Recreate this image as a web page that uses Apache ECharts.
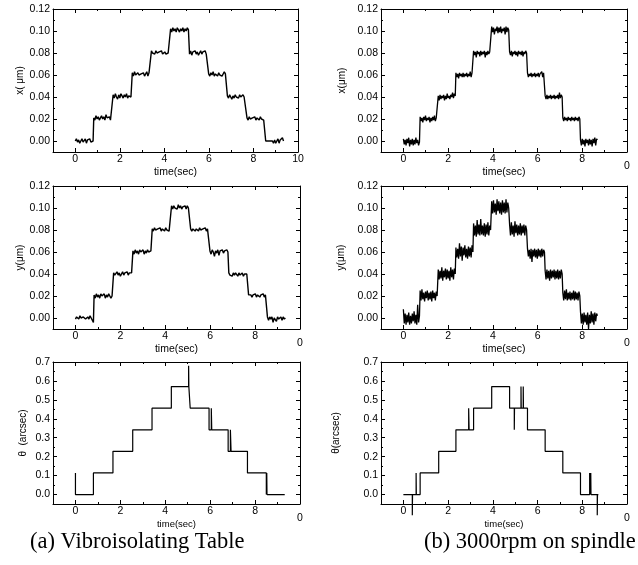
<!DOCTYPE html>
<html>
<head>
<meta charset="utf-8">
<script src="https://cdn.jsdelivr.net/npm/echarts@6/dist/echarts.min.js"></script>
<style>
  html, body { margin: 0; padding: 0; background: #fff; }
  #chart { width: 638px; height: 565px; }
</style>
</head>
<body>
<div id="chart"></div>
<script>
// time stamps, column (a): one row per plateau
const timeA = [
  0.00, 0.05, 0.10, 0.15, 0.20, 0.25, 0.30, 0.35, 0.40, 0.45, 0.50, 0.55, 0.60, 0.65, 0.70, 0.75, 0.80,
  0.83, 0.88, 0.93, 0.98, 1.03, 1.08, 1.13, 1.18, 1.23, 1.28, 1.33, 1.38, 1.43, 1.48, 1.53, 1.58, 1.63,
  1.70, 1.75, 1.80, 1.85, 1.90, 1.95, 2.00, 2.05, 2.10, 2.15, 2.20, 2.25, 2.30, 2.35, 2.40, 2.45, 2.50,
  2.56, 2.61, 2.66, 2.71, 2.76, 2.81, 2.86, 2.91, 2.96, 3.01, 3.06, 3.11, 3.16, 3.21, 3.26, 3.31, 3.36,
  3.42, 3.47, 3.52, 3.57, 3.62, 3.67, 3.72, 3.77, 3.82, 3.87, 3.92, 3.97, 4.02, 4.07, 4.12, 4.17, 4.22,
  4.28, 4.33, 4.38, 4.43, 4.48, 4.53, 4.58, 4.63, 4.68, 4.73, 4.78, 4.83, 4.88, 4.93, 4.98, 5.03, 5.08,
  5.13, 5.18, 5.23, 5.28, 5.33, 5.38, 5.43, 5.48, 5.53, 5.58, 5.63, 5.68, 5.73, 5.78, 5.83, 5.88, 5.93,
  5.99, 6.04, 6.09, 6.14, 6.19, 6.24, 6.29, 6.34, 6.39, 6.44, 6.49, 6.54, 6.59, 6.64, 6.69, 6.74, 6.79,
  6.83, 6.88, 6.93, 6.98, 7.03, 7.08, 7.13, 7.18, 7.23, 7.28, 7.33, 7.38, 7.43, 7.48, 7.53, 7.58, 7.63,
  7.71, 7.76, 7.81, 7.86, 7.91, 7.96, 8.01, 8.06, 8.11, 8.16, 8.21, 8.26, 8.31, 8.36, 8.41, 8.46, 8.51,
  8.55, 8.60, 8.65, 8.70, 8.75, 8.80, 8.85, 8.90, 8.95, 9.00, 9.05, 9.10, 9.15, 9.20, 9.25, 9.30, 9.35
]
const xA = [
  0.000, 0.002, -0.001, 0.001, -0.002, 0.000, 0.002, -0.001, 0.000, 0.002, -0.002, 0.001, 0.000, 0.002, -0.001, -0.001, 0.000,
  0.021, 0.019, 0.023, 0.020, 0.022, 0.019, 0.021, 0.023, 0.020, 0.022, 0.019, 0.024, 0.021, 0.020, 0.022, 0.019, 0.020,
  0.042, 0.039, 0.043, 0.040, 0.038, 0.042, 0.039, 0.043, 0.041, 0.039, 0.042, 0.040, 0.043, 0.039, 0.041, 0.042, 0.040,
  0.062, 0.059, 0.063, 0.060, 0.059, 0.062, 0.060, 0.059, 0.061, 0.060, 0.062, 0.059, 0.060, 0.063, 0.059, 0.062, 0.061,
  0.082, 0.080, 0.081, 0.079, 0.082, 0.080, 0.079, 0.081, 0.080, 0.082, 0.079, 0.080, 0.081, 0.079, 0.080, 0.080, 0.080,
  0.102, 0.099, 0.103, 0.100, 0.102, 0.099, 0.103, 0.101, 0.099, 0.102, 0.100, 0.103, 0.099, 0.102, 0.100, 0.103, 0.101,
  0.079, 0.082, 0.078, 0.081, 0.080, 0.082, 0.079, 0.081, 0.078, 0.080, 0.082, 0.079, 0.081, 0.080, 0.082, 0.079, 0.080,
  0.061, 0.059, 0.062, 0.060, 0.063, 0.059, 0.061, 0.060, 0.059, 0.062, 0.060, 0.061, 0.059, 0.060, 0.063, 0.061, 0.060,
  0.041, 0.039, 0.042, 0.040, 0.038, 0.041, 0.039, 0.042, 0.040, 0.041, 0.039, 0.042, 0.040, 0.039, 0.042, 0.040, 0.041,
  0.021, 0.019, 0.022, 0.020, 0.019, 0.021, 0.020, 0.022, 0.019, 0.021, 0.020, 0.019, 0.022, 0.020, 0.021, 0.019, 0.020,
  0.000, 0.000, 0.000, 0.000, 0.000, 0.000, 0.000, -0.002, 0.001, -0.002, 0.000, 0.002, -0.002, 0.001, 0.000, 0.003, 0.000
]
const yA = [
  -0.001, 0.001, 0.000, -0.001, 0.002, 0.000, -0.001, 0.001, 0.002, -0.001, 0.000, 0.001, -0.001, 0.002, 0.000, -0.002, -0.004,
  0.021, 0.018, 0.022, 0.019, 0.021, 0.018, 0.022, 0.020, 0.019, 0.022, 0.018, 0.021, 0.019, 0.022, 0.020, 0.018, 0.020,
  0.041, 0.039, 0.040, 0.042, 0.039, 0.041, 0.038, 0.040, 0.042, 0.039, 0.041, 0.040, 0.042, 0.039, 0.041, 0.040, 0.041,
  0.061, 0.058, 0.062, 0.059, 0.061, 0.058, 0.062, 0.060, 0.059, 0.062, 0.058, 0.061, 0.059, 0.062, 0.060, 0.059, 0.061,
  0.081, 0.079, 0.082, 0.080, 0.079, 0.081, 0.080, 0.082, 0.079, 0.081, 0.080, 0.079, 0.082, 0.080, 0.081, 0.079, 0.080,
  0.102, 0.099, 0.102, 0.100, 0.101, 0.099, 0.103, 0.100, 0.102, 0.099, 0.101, 0.100, 0.102, 0.099, 0.102, 0.100, 0.101,
  0.081, 0.079, 0.081, 0.080, 0.079, 0.081, 0.080, 0.079, 0.082, 0.080, 0.079, 0.081, 0.080, 0.082, 0.079, 0.081, 0.080,
  0.061, 0.058, 0.062, 0.060, 0.056, 0.061, 0.059, 0.062, 0.057, 0.061, 0.060, 0.062, 0.059, 0.061, 0.060, 0.062, 0.060,
  0.041, 0.039, 0.040, 0.038, 0.041, 0.039, 0.041, 0.040, 0.038, 0.041, 0.039, 0.040, 0.041, 0.038, 0.040, 0.041, 0.040,
  0.021, 0.020, 0.021, 0.019, 0.021, 0.020, 0.022, 0.019, 0.021, 0.020, 0.019, 0.021, 0.020, 0.022, 0.019, 0.021, 0.020,
  0.001, -0.002, 0.001, -0.001, 0.001, -0.004, 0.000, 0.001, -0.003, 0.001, -0.001, 0.000, 0.001, -0.002, 0.001, -0.001, 0.000
]

// time stamps, column (b)
const timeB = [
  0.00, 0.04, 0.08, 0.12, 0.16, 0.20, 0.24, 0.28, 0.32, 0.36, 0.40, 0.44, 0.48, 0.52, 0.56, 0.60, 0.64, 0.68, 0.72,
  0.75, 0.79, 0.83, 0.87, 0.91, 0.95, 0.99, 1.03, 1.07, 1.11, 1.15, 1.19, 1.23, 1.27, 1.31, 1.35, 1.39, 1.43, 1.47, 1.51,
  1.56, 1.60, 1.64, 1.68, 1.72, 1.76, 1.80, 1.84, 1.88, 1.92, 1.96, 2.00, 2.04, 2.08, 2.12, 2.16, 2.20, 2.24, 2.28, 2.32,
  2.35, 2.39, 2.43, 2.47, 2.51, 2.55, 2.59, 2.63, 2.67, 2.71, 2.75, 2.79, 2.83, 2.87, 2.91, 2.95, 2.99, 3.03, 3.07, 3.11,
  3.14, 3.18, 3.22, 3.26, 3.30, 3.34, 3.38, 3.42, 3.46, 3.50, 3.54, 3.58, 3.62, 3.66, 3.70, 3.74, 3.78, 3.82, 3.86, 3.90,
  3.95, 3.99, 4.03, 4.07, 4.11, 4.15, 4.19, 4.23, 4.27, 4.31, 4.35, 4.39, 4.43, 4.47, 4.51, 4.55, 4.59, 4.63, 4.67, 4.71,
  4.75, 4.79, 4.83, 4.87, 4.91, 4.95, 4.99, 5.03, 5.07, 5.11, 5.15, 5.19, 5.23, 5.27, 5.31, 5.35, 5.39, 5.43, 5.47, 5.51,
  5.55, 5.59, 5.63, 5.67, 5.71, 5.75, 5.79, 5.83, 5.87, 5.91, 5.95, 5.99, 6.03, 6.07, 6.11, 6.15, 6.19, 6.23, 6.27, 6.31,
  6.34, 6.38, 6.42, 6.46, 6.50, 6.54, 6.58, 6.62, 6.66, 6.70, 6.74, 6.78, 6.82, 6.86, 6.90, 6.94, 6.98, 7.02, 7.06, 7.10,
  7.13, 7.17, 7.21, 7.25, 7.29, 7.33, 7.37, 7.41, 7.45, 7.49, 7.53, 7.57, 7.61, 7.65, 7.69, 7.73, 7.77, 7.81, 7.85, 7.89,
  7.92, 7.96, 8.00, 8.04, 8.08, 8.12, 8.16, 8.20, 8.24, 8.28, 8.32, 8.36, 8.40, 8.44, 8.48, 8.52, 8.56, 8.60, 8.64, 8.68
]
const xB = [
  0.002, -0.003, 0.001, -0.004, 0.002, -0.002, 0.003, -0.005, 0.001, -0.003, 0.002, -0.004, 0.001, -0.003, 0.003, -0.002, 0.001, -0.004, -0.001,
  0.022, 0.018, 0.021, 0.017, 0.022, 0.019, 0.023, 0.018, 0.021, 0.019, 0.022, 0.017, 0.021, 0.018, 0.022, 0.019, 0.023, 0.018, 0.021, 0.020,
  0.041, 0.037, 0.042, 0.038, 0.041, 0.039, 0.042, 0.037, 0.041, 0.038, 0.043, 0.039, 0.041, 0.038, 0.042, 0.040, 0.044, 0.039, 0.043, 0.041,
  0.062, 0.058, 0.061, 0.057, 0.062, 0.059, 0.061, 0.058, 0.062, 0.058, 0.061, 0.059, 0.062, 0.058, 0.061, 0.059, 0.063, 0.058, 0.062, 0.061,
  0.082, 0.078, 0.081, 0.076, 0.082, 0.079, 0.081, 0.077, 0.082, 0.078, 0.081, 0.079, 0.082, 0.076, 0.081, 0.078, 0.082, 0.079, 0.081, 0.080,
  0.104, 0.099, 0.103, 0.097, 0.102, 0.100, 0.104, 0.098, 0.103, 0.099, 0.104, 0.098, 0.102, 0.100, 0.103, 0.097, 0.104, 0.099, 0.103, 0.101,
  0.081, 0.078, 0.082, 0.077, 0.081, 0.079, 0.082, 0.078, 0.081, 0.077, 0.082, 0.079, 0.081, 0.078, 0.082, 0.077, 0.081, 0.079, 0.082, 0.080,
  0.062, 0.058, 0.061, 0.059, 0.062, 0.058, 0.061, 0.059, 0.062, 0.058, 0.061, 0.059, 0.062, 0.058, 0.061, 0.060, 0.063, 0.058, 0.062, 0.061,
  0.041, 0.038, 0.042, 0.038, 0.041, 0.039, 0.042, 0.038, 0.041, 0.039, 0.042, 0.038, 0.041, 0.039, 0.042, 0.038, 0.044, 0.039, 0.042, 0.040,
  0.021, 0.018, 0.022, 0.019, 0.021, 0.018, 0.022, 0.019, 0.021, 0.018, 0.022, 0.019, 0.021, 0.018, 0.022, 0.019, 0.021, 0.018, 0.022, 0.020,
  0.001, -0.004, 0.002, -0.003, 0.001, -0.005, 0.002, -0.002, 0.001, -0.004, 0.002, -0.003, 0.001, -0.005, 0.002, -0.002, 0.003, -0.004, 0.002, 0.001
]
const yB = [
  0.008, -0.005, 0.004, -0.006, 0.003, -0.004, 0.005, -0.006, 0.002, -0.005, 0.004, -0.003, 0.006, -0.005, 0.003, -0.006, 0.012, -0.004, 0.002,
  0.025, 0.016, 0.026, 0.017, 0.023, 0.015, 0.024, 0.018, 0.025, 0.016, 0.023, 0.017, 0.024, 0.015, 0.025, 0.018, 0.023, 0.016, 0.024, 0.020,
  0.044, 0.035, 0.043, 0.036, 0.046, 0.034, 0.043, 0.037, 0.045, 0.035, 0.044, 0.036, 0.043, 0.034, 0.046, 0.037, 0.044, 0.035, 0.045, 0.040,
  0.064, 0.055, 0.063, 0.054, 0.068, 0.056, 0.065, 0.052, 0.064, 0.057, 0.066, 0.055, 0.063, 0.054, 0.065, 0.056, 0.064, 0.055, 0.066, 0.060,
  0.086, 0.075, 0.084, 0.074, 0.089, 0.076, 0.085, 0.075, 0.090, 0.076, 0.084, 0.075, 0.086, 0.074, 0.085, 0.076, 0.087, 0.075, 0.084, 0.080,
  0.106, 0.095, 0.107, 0.096, 0.104, 0.094, 0.108, 0.097, 0.106, 0.095, 0.105, 0.094, 0.107, 0.096, 0.105, 0.095, 0.108, 0.096, 0.105, 0.100,
  0.085, 0.075, 0.087, 0.076, 0.084, 0.074, 0.088, 0.077, 0.085, 0.075, 0.084, 0.076, 0.086, 0.075, 0.084, 0.077, 0.085, 0.075, 0.084, 0.080,
  0.063, 0.056, 0.062, 0.054, 0.063, 0.051, 0.062, 0.056, 0.063, 0.055, 0.062, 0.054, 0.063, 0.056, 0.062, 0.055, 0.063, 0.056, 0.062, 0.060,
  0.043, 0.035, 0.044, 0.036, 0.043, 0.034, 0.044, 0.036, 0.043, 0.037, 0.044, 0.035, 0.043, 0.036, 0.044, 0.035, 0.043, 0.036, 0.044, 0.040,
  0.023, 0.016, 0.025, 0.017, 0.026, 0.016, 0.023, 0.017, 0.024, 0.016, 0.023, 0.017, 0.025, 0.016, 0.024, 0.017, 0.023, 0.016, 0.024, 0.020,
  0.006, -0.005, 0.004, -0.006, 0.005, -0.004, 0.003, -0.006, 0.005, -0.010, 0.003, -0.005, 0.006, -0.004, 0.004, -0.006, 0.005, -0.003, 0.004, 0.002
]

// theta traces (quantised steps), [time, arcsec]
const thetaA = [
  [0, 0.114], [0, 0], [0.80, 0], [0.80, 0.114], [1.67, 0.114], [1.67, 0.228],
  [2.55, 0.228], [2.55, 0.342], [3.41, 0.342], [3.41, 0.456], [4.27, 0.456], [4.27, 0.57],
  [5.04, 0.57], [5.04, 0.68], [5.05, 0.57], [5.11, 0.57], [5.11, 0.456],
  [5.95, 0.456], [5.95, 0.342], [6.05, 0.342], [6.05, 0.456], [6.07, 0.456], [6.07, 0.342],
  [6.80, 0.342], [6.80, 0.228], [6.90, 0.228], [6.90, 0.342], [6.93, 0.342], [6.93, 0.228],
  [7.66, 0.228], [7.66, 0.114], [8.50, 0.114], [8.50, 0], [8.52, 0], [8.52, 0.114],
  [8.53, 0.114], [8.53, 0], [9.32, 0]
]
const thetaB = [
  [0, 0], [0.40, 0], [0.40, -0.11], [0.41, -0.11], [0.41, 0], [0.57, 0], [0.57, 0.114],
  [0.58, 0.114], [0.58, 0], [0.75, 0], [0.75, 0.114], [1.58, 0.114], [1.58, 0.228],
  [2.35, 0.228], [2.35, 0.342], [2.92, 0.342], [2.92, 0.456], [2.94, 0.456], [2.94, 0.342],
  [3.14, 0.342], [3.14, 0.456], [3.95, 0.456], [3.95, 0.57], [4.75, 0.57], [4.75, 0.456],
  [4.96, 0.456], [4.96, 0.342], [4.97, 0.342], [4.97, 0.456], [5.26, 0.456], [5.26, 0.57],
  [5.27, 0.57], [5.27, 0.456], [5.36, 0.456], [5.36, 0.57], [5.37, 0.57], [5.37, 0.456],
  [5.55, 0.456], [5.55, 0.342], [6.34, 0.342], [6.34, 0.228], [7.13, 0.228], [7.13, 0.114],
  [7.92, 0.114], [7.92, 0], [8.33, 0], [8.33, 0.114], [8.34, 0.114], [8.34, 0],
  [8.38, 0], [8.38, 0.114], [8.39, 0.114], [8.39, 0], [8.67, 0], [8.67, -0.11],
  [8.68, -0.11], [8.68, 0], [8.72, 0]
]

// ticks
const timeTicks = [0, 2, 4, 6, 8, 10]
const timeMinor = [1, 3, 5, 7, 9]
const umTicks = [0, 0.02, 0.04, 0.06, 0.08, 0.10, 0.12]
const umMinor = [-0.01, 0.01, 0.03, 0.05, 0.07, 0.09, 0.11]
const thTicks = [0, 0.1, 0.2, 0.3, 0.4, 0.5, 0.6, 0.7]
const thMinor = [-0.05, 0.05, 0.15, 0.25, 0.35, 0.45, 0.55, 0.65]

const captions = ['(a) Vibroisolating Table', '(b) 3000rpm on spindle']

const SANS = 'Liberation Sans, Arial, sans-serif'
const SERIF = 'Liberation Serif, Times New Roman, serif'

// panel boxes and labels
const panels = [
  { left: 53, top: 9, width: 245, height: 143, name: 'x( μm)', gap: 25, t: timeA, v: xA, unit: 'um', full10: true, lw: 1.4 },
  { left: 381, top: 9, width: 246, height: 143, name: 'x(μm)', gap: 34, t: timeB, v: xB, unit: 'um', lw: 1.3 },
  { left: 53, top: 186, width: 247, height: 143, name: 'y(μm)', gap: 25, t: timeA, v: yA, unit: 'um', lw: 1.4 },
  { left: 381, top: 186, width: 246, height: 143, name: 'y(μm)', gap: 35, t: timeB, v: yB, unit: 'um', lw: 1.3 },
  { left: 53, top: 362, width: 247, height: 142, name: 'θ  (arcsec)', gap: 25, steps: thetaA, unit: 'th', small: true, lw: 1.2 },
  { left: 381, top: 362, width: 246, height: 142, name: 'θ(arcsec)', gap: 40, steps: thetaB, unit: 'th', small: true, noClip: true, lw: 1.2 }
]

const grids = []
const xAxes = []
const yAxes = []
const series = []

const noLine = { show: false, onZero: false }
const noLabel = { show: false }
const noSplit = { show: false }

const tick = (vals, len) => ({ show: true, inside: true, length: len, customValues: vals, lineStyle: { color: '#000', width: 1 } })

panels.forEach((p, gi) => {
  grids.push({ left: p.left, top: p.top, width: p.width, height: p.height })
  const isUm = p.unit === 'um'
  const yMin = isUm ? -0.01 : -0.05
  const yMax = isUm ? 0.12 : 0.7
  const yMajor = isUm ? umTicks : thTicks
  const yMinorV = isUm ? umMinor : thMinor
  const line = { show: true, onZero: false, lineStyle: { color: '#000', width: 1 } }

  const xBase = { type: 'value', gridIndex: gi, min: -1, max: 10, splitLine: noSplit }
  // bottom axis carries labels and name
  xAxes.push(Object.assign({}, xBase, {
    position: 'bottom',
    axisLine: line,
    axisTick: tick(timeTicks, 4),
    axisLabel: {
      show: true, customValues: timeTicks, margin: 2, color: '#000', fontFamily: SANS, fontSize: 10.5,
      formatter: v => (v === 10 && !p.full10) ? '{z|0}' : String(v),
      rich: { z: { fontFamily: SANS, fontSize: 10.5, color: '#000', padding: [7, 0, 0, 0] } }
    },
    name: 'time(sec)', nameLocation: 'middle', nameGap: 15, nameMoveOverlap: false,
    nameTextStyle: { fontFamily: SANS, fontSize: p.small ? 9.5 : 10.5, color: '#000' }
  }))
  xAxes.push(Object.assign({}, xBase, { position: 'bottom', axisLine: noLine, axisLabel: noLabel, axisTick: tick(timeMinor, 2) }))
  xAxes.push(Object.assign({}, xBase, { position: 'top', axisLine: line, axisLabel: noLabel, axisTick: tick(timeTicks, 4) }))
  xAxes.push(Object.assign({}, xBase, { position: 'top', axisLine: noLine, axisLabel: noLabel, axisTick: tick(timeMinor, 2) }))

  const yBase = { type: 'value', gridIndex: gi, min: yMin, max: yMax, splitLine: noSplit }
  yAxes.push(Object.assign({}, yBase, {
    position: 'left',
    axisLine: line,
    axisTick: tick(yMajor, 4),
    axisLabel: {
      show: true, customValues: yMajor, margin: 3, color: '#000', fontFamily: SANS, fontSize: 10.5,
      formatter: v => v.toFixed(isUm ? 2 : 1)
    },
    name: p.name, nameLocation: 'middle', nameGap: p.gap, nameRotate: 90,
    nameTextStyle: { fontFamily: SANS, fontSize: 10, color: '#000' }
  }))
  yAxes.push(Object.assign({}, yBase, { position: 'left', axisLine: noLine, axisLabel: noLabel, axisTick: tick(yMinorV, 2) }))
  yAxes.push(Object.assign({}, yBase, { position: 'right', axisLine: line, axisLabel: noLabel, axisTick: tick(yMajor, 4) }))
  yAxes.push(Object.assign({}, yBase, { position: 'right', axisLine: noLine, axisLabel: noLabel, axisTick: tick(yMinorV, 2) }))

  const data = p.steps ? p.steps : p.t.map((t, i) => [t, p.v[i]])
  series.push({
    type: 'line',
    xAxisIndex: gi * 4,
    yAxisIndex: gi * 4,
    data: data,
    symbol: 'none',
    clip: !p.noClip,
    lineStyle: { color: '#000', width: p.lw }
  })
})

const chart = echarts.init(document.getElementById('chart'))
chart.setOption({
  backgroundColor: '#fff',
  animation: false,
  title: [
    { text: captions[0], left: 30, top: 531, padding: 0,
      textStyle: { fontFamily: SERIF, fontSize: 22.5, fontWeight: 'normal', color: '#000' } },
    { text: captions[1], left: 424, top: 531, padding: 0,
      textStyle: { fontFamily: SERIF, fontSize: 22.5, fontWeight: 'normal', color: '#000' } }
  ],
  grid: grids,
  xAxis: xAxes,
  yAxis: yAxes,
  series: series
})
</script>
</body>
</html>
